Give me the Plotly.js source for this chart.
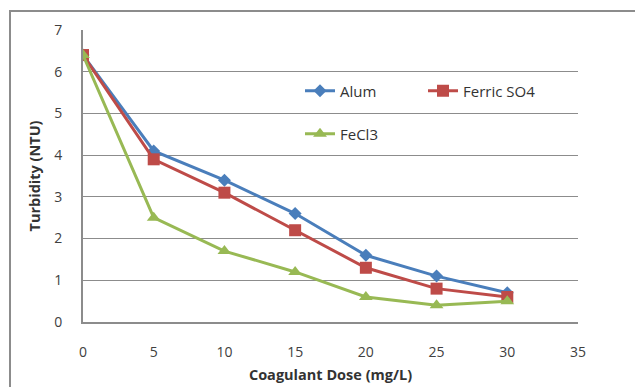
<!DOCTYPE html>
<html>
<head>
<meta charset="utf-8">
<script src="https://cdn.plot.ly/plotly-3.0.1.min.js"></script>
<style>html,body{margin:0;padding:0;background:#fff;}#chart{width:635px;height:387px;}</style>
</head>
<body>
<div id="chart"></div>
<script>
var dose = [0, 5, 10, 15, 20, 25, 30];
var alum = [6.4, 4.1, 3.4, 2.6, 1.6, 1.1, 0.7];
var ferricSO4 = [6.4, 3.9, 3.1, 2.2, 1.3, 0.8, 0.6];
var fecl3 = [6.4, 2.5, 1.7, 1.2, 0.6, 0.4, 0.5];
var xTicks = [0, 5, 10, 15, 20, 25, 30, 35];
var yTicks = [0, 1, 2, 3, 4, 5, 6, 7];

var font = "'Open Sans', 'Liberation Sans', sans-serif";

var traces = [
  {x: dose, y: alum, name: 'Alum', type: 'scatter', mode: 'lines+markers',
   line: {color: '#4a7ebb', width: 3}, marker: {symbol: 'diamond', size: 10, color: '#4a7ebb'}, legend: 'legend'},
  {x: dose, y: ferricSO4, name: 'Ferric SO4', type: 'scatter', mode: 'lines+markers',
   line: {color: '#be4b48', width: 3}, marker: {symbol: 'square', size: 12, color: '#be4b48'}, legend: 'legend'},
  {x: dose, y: fecl3, name: 'FeCl3', type: 'scatter', mode: 'lines+markers',
   line: {color: '#98b954', width: 3}, marker: {symbol: 'triangle-up', size: 12, color: '#98b954'}, legend: 'legend2'}
];

var L = 83, T = 30, W = 495, H = 292;
function px(x){ return (x - L) / W; }
function py(y){ return (T + H - y) / H; }

var layout = {
  width: 635, height: 387,
  margin: {l: L, r: 635 - L - W, t: T, b: 387 - T - H},
  paper_bgcolor: '#fff', plot_bgcolor: '#fff',
  font: {family: font, size: 14, color: '#404040'},
  showlegend: true,
  legend: {orientation: 'h', x: px(300), y: py(91), xanchor: 'left', yanchor: 'middle',
           bgcolor: 'rgba(0,0,0,0)', font: {family: font, size: 15, color: '#333'},
           entrywidth: 78, entrywidthmode: 'pixels'},
  legend2: {orientation: 'h', x: px(300), y: py(134), xanchor: 'left', yanchor: 'middle',
           bgcolor: 'rgba(0,0,0,0)', font: {family: font, size: 15, color: '#333'}},
  xaxis: {range: [0, 35], tickvals: xTicks, showgrid: false, zeroline: false,
          showline: true, linecolor: '#8c8c8c', linewidth: 2, ticks: '',
          tickfont: {family: font, size: 14, color: '#404040'}, ticklabelstandoff: 16,
          title: {text: '<b>Coagulant Dose (mg/L)</b>', font: {family: font, size: 14.5, color: '#333'}, standoff: 10}},
  yaxis: {range: [0, 7], tickvals: yTicks, showgrid: true, gridcolor: '#8c8c8c', gridwidth: 1,
          zeroline: false, showline: true, linecolor: '#8c8c8c', linewidth: 2, ticks: '',
          tickfont: {family: font, size: 14, color: '#404040'}, ticklabelstandoff: 16,
          title: {text: '<b>Turbidity (NTU)</b>', font: {family: font, size: 14.5, color: '#333'}, standoff: 10}},
  shapes: [
    {type: 'rect', xref: 'paper', yref: 'paper', x0: px(10), x1: px(645), y0: py(397), y1: py(11),
     line: {color: '#8c8c8c', width: 2}, fillcolor: 'rgba(0,0,0,0)', layer: 'below'}
  ]
};

Plotly.newPlot('chart', traces, layout, {displayModeBar: false, staticPlot: true});
</script>
</body>
</html>
